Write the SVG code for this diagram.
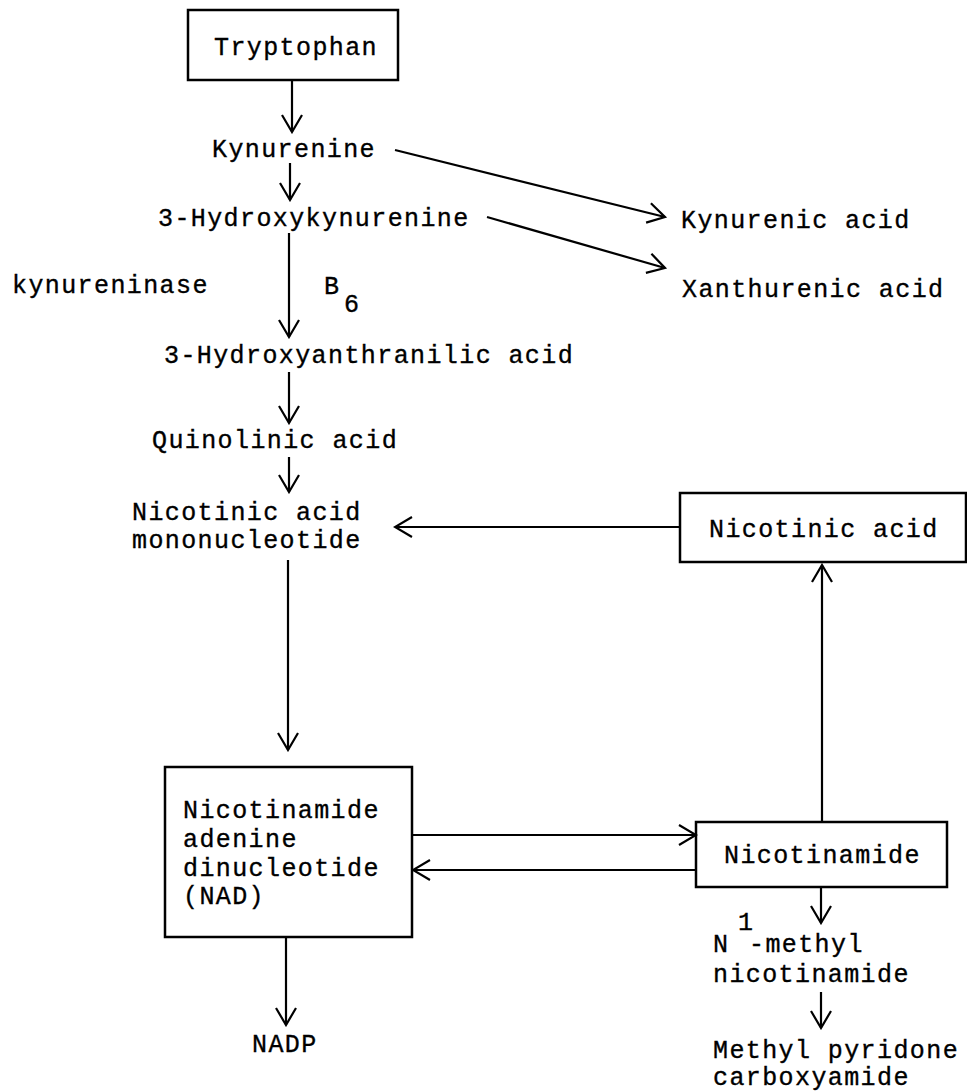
<svg xmlns="http://www.w3.org/2000/svg" width="967" height="1091" viewBox="0 0 967 1091">
<style>
text{font-family:"Liberation Mono","DejaVu Sans Mono",monospace;font-size:25px;letter-spacing:1.4px;fill:#000;stroke:#000;stroke-width:0.35}
.box{fill:none;stroke:#000;stroke-width:2.5}
.c line{stroke:#000;stroke-width:2.2;fill:none}
.arr{marker-end:url(#ah)}
</style>
<defs>
<marker id="ah" markerUnits="userSpaceOnUse" viewBox="-20 -13 22 26" refX="0" refY="0" markerWidth="22" markerHeight="26" orient="auto">
<path d="M-17,-10 L0,0 L-17,10" fill="none" stroke="#000" stroke-width="2.2"/>
</marker>
</defs>
<rect x="0" y="0" width="967" height="1091" fill="#fff"/>
<g id="tryptophan"><rect class="box" x="188" y="10" width="210" height="70"/><text x="214" y="55">Tryptophan</text></g>
<g id="kynurenine"><text x="212" y="157">Kynurenine</text></g>
<g id="hydroxykynurenine"><text x="158" y="226">3-Hydroxykynurenine</text></g>
<g id="kynurenic"><text x="681" y="228">Kynurenic acid</text></g>
<g id="xanthurenic"><text x="682" y="297">Xanthurenic acid</text></g>
<g id="kynureninase"><text x="12" y="293">kynureninase</text></g>
<g id="b6"><text x="324" y="294">B</text><text x="344" y="312">6</text></g>
<g id="hydroxyanthranilic"><text x="164" y="363">3-Hydroxyanthranilic acid</text></g>
<g id="quinolinic"><text x="152" y="448">Quinolinic acid</text></g>
<g id="namn"><text x="132" y="520">Nicotinic acid</text><text x="132" y="548">mononucleotide</text></g>
<g id="nicotinic"><rect class="box" x="680" y="493" width="286" height="69"/><text x="709" y="537">Nicotinic acid</text></g>
<g id="nad"><rect class="box" x="165" y="767" width="247" height="170"/><text x="183" y="818">Nicotinamide</text><text x="183" y="847">adenine</text><text x="183" y="876">dinucleotide</text><text x="183" y="904">(NAD)</text></g>
<g id="nicotinamide"><rect class="box" x="696" y="822" width="251" height="65"/><text x="724" y="863">Nicotinamide</text></g>
<g id="nadp"><text x="252" y="1052">NADP</text></g>
<g id="methylnicotinamide"><text x="713" y="952">N</text><text x="738" y="930">1</text><text x="749" y="952">-methyl</text><text x="713" y="982">nicotinamide</text></g>
<g id="pyridone"><text x="713" y="1058">Methyl pyridone</text><text x="713" y="1085">carboxyamide</text></g>
<g id="connectors" class="c">
<line class="arr" x1="292" y1="80" x2="292" y2="132"/>
<line class="arr" x1="290" y1="163" x2="290" y2="200"/>
<line class="arr" x1="395" y1="150" x2="665" y2="217"/>
<line class="arr" x1="487" y1="217" x2="665" y2="268"/>
<line class="arr" x1="289" y1="233" x2="289" y2="337"/>
<line class="arr" x1="289" y1="372" x2="289" y2="423"/>
<line class="arr" x1="289" y1="457" x2="289" y2="492"/>
<line class="arr" x1="680" y1="527" x2="395" y2="527"/>
<line class="arr" x1="288" y1="560" x2="288" y2="750"/>
<line class="arr" x1="822" y1="822" x2="822" y2="565"/>
<line class="arr" x1="412" y1="835" x2="696" y2="835"/>
<line class="arr" x1="696" y1="870" x2="413" y2="870"/>
<line class="arr" x1="821" y1="887" x2="821" y2="923"/>
<line class="arr" x1="821" y1="992" x2="821" y2="1028"/>
<line class="arr" x1="286" y1="937" x2="286" y2="1025"/>
</g>
</svg>
